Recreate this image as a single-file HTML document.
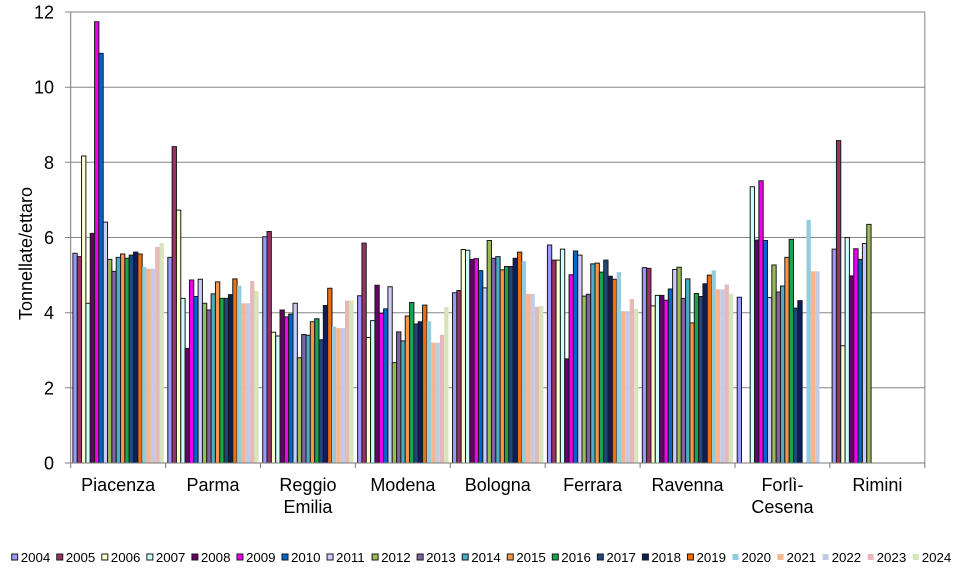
<!DOCTYPE html>
<html><head><meta charset="utf-8">
<style>
html,body{margin:0;padding:0;background:#fff;}
svg{display:block;}
text{font-family:"Liberation Sans",Arial,sans-serif;fill:#000;}
.b rect{vector-effect:non-scaling-stroke;stroke-width:1;}
.s0{fill:#9999FF;stroke:#1a1a1a}.s1{fill:#993366;stroke:#1a1a1a}.s2{fill:#FFFFCC;stroke:#1a1a1a}.s3{fill:#CCFFFF;stroke:#1a1a1a}
.s4{fill:#660066;stroke:#1a1a1a}.s5{fill:#EE00EE;stroke:#1a1a1a}.s6{fill:#0066CC;stroke:#1a1a1a}.s7{fill:#CCCCFF;stroke:#1a1a1a}
.s8{fill:#9BBB59;stroke:#1a1a1a}.s9{fill:#8064A2;stroke:#1a1a1a}.s10{fill:#4BACC6;stroke:#1a1a1a}.s11{fill:#F79646;stroke:#1a1a1a}
.s12{fill:#17A550;stroke:#1a1a1a}.s13{fill:#1F497D;stroke:#1a1a1a}.s14{fill:#0A1F5C;stroke:#1a1a1a}.s15{fill:#EC6E0E;stroke:#1a1a1a}
.s16{fill:#93CDDD;stroke:none}.s17{fill:#F8B48A;stroke:none}.s18{fill:#C2CBE6;stroke:none}.s19{fill:#E6B9B8;stroke:none}.s20{fill:#D7E4BD;stroke:none}
</style></head>
<body>
<svg width="966" height="588" viewBox="0 0 966 588" xmlns="http://www.w3.org/2000/svg">
<rect width="966" height="588" fill="#fff"/>
<!-- grid -->
<g stroke="#868686" stroke-width="1">
<line x1="65" y1="12" x2="924.8" y2="12"/>
<line x1="65" y1="87.2" x2="924.8" y2="87.2"/>
<line x1="65" y1="162.3" x2="924.8" y2="162.3"/>
<line x1="65" y1="237.5" x2="924.8" y2="237.5"/>
<line x1="65" y1="312.7" x2="924.8" y2="312.7"/>
<line x1="65" y1="387.8" x2="924.8" y2="387.8"/>
<line x1="924.8" y1="12" x2="924.8" y2="463"/>
</g>
<!-- bars -->
<g class="b" transform="translate(72.9,463) scale(1,-37.58)">
<rect class="s0" x="0" y="0" width="4.33" height="5.58"/><rect class="s1" x="4.33" y="0" width="4.33" height="5.49"/><rect class="s2" x="8.66" y="0" width="4.33" height="8.17"/><rect class="s3" x="12.99" y="0" width="4.33" height="4.25"/><rect class="s4" x="17.32" y="0" width="4.33" height="6.11"/><rect class="s5" x="21.65" y="0" width="4.33" height="11.74"/><rect class="s6" x="25.98" y="0" width="4.33" height="10.9"/><rect class="s7" x="30.31" y="0" width="4.33" height="6.41"/><rect class="s8" x="34.64" y="0" width="4.33" height="5.42"/><rect class="s9" x="38.97" y="0" width="4.33" height="5.1"/><rect class="s10" x="43.3" y="0" width="4.33" height="5.47"/><rect class="s11" x="47.63" y="0" width="4.33" height="5.56"/><rect class="s12" x="51.96" y="0" width="4.33" height="5.45"/><rect class="s13" x="56.29" y="0" width="4.33" height="5.53"/><rect class="s14" x="60.62" y="0" width="4.33" height="5.61"/><rect class="s15" x="64.95" y="0" width="4.33" height="5.56"/><rect class="s16" x="69.28" y="0" width="4.33" height="5.22"/><rect class="s17" x="73.61" y="0" width="4.33" height="5.17"/><rect class="s18" x="77.94" y="0" width="4.33" height="5.17"/><rect class="s19" x="82.27" y="0" width="4.33" height="5.75"/><rect class="s20" x="86.6" y="0" width="4.33" height="5.85"/>
</g>
<g class="b" transform="translate(167.8,463) scale(1,-37.58)">
<rect class="s0" x="0" y="0" width="4.33" height="5.47"/><rect class="s1" x="4.33" y="0" width="4.33" height="8.42"/><rect class="s2" x="8.66" y="0" width="4.33" height="6.73"/><rect class="s3" x="12.99" y="0" width="4.33" height="4.38"/><rect class="s4" x="17.32" y="0" width="4.33" height="3.05"/><rect class="s5" x="21.65" y="0" width="4.33" height="4.87"/><rect class="s6" x="25.98" y="0" width="4.33" height="4.43"/><rect class="s7" x="30.31" y="0" width="4.33" height="4.89"/><rect class="s8" x="34.64" y="0" width="4.33" height="4.25"/><rect class="s9" x="38.97" y="0" width="4.33" height="4.07"/><rect class="s10" x="43.3" y="0" width="4.33" height="4.5"/><rect class="s11" x="47.63" y="0" width="4.33" height="4.82"/><rect class="s12" x="51.96" y="0" width="4.33" height="4.38"/><rect class="s13" x="56.29" y="0" width="4.33" height="4.38"/><rect class="s14" x="60.62" y="0" width="4.33" height="4.48"/><rect class="s15" x="64.95" y="0" width="4.33" height="4.9"/><rect class="s16" x="69.28" y="0" width="4.33" height="4.72"/><rect class="s17" x="73.61" y="0" width="4.33" height="4.25"/><rect class="s18" x="77.94" y="0" width="4.33" height="4.25"/><rect class="s19" x="82.27" y="0" width="4.33" height="4.84"/><rect class="s20" x="86.6" y="0" width="4.33" height="4.58"/>
</g>
<g class="b" transform="translate(262.7,463) scale(1,-37.58)">
<rect class="s0" x="0" y="0" width="4.33" height="6.02"/><rect class="s1" x="4.33" y="0" width="4.33" height="6.16"/><rect class="s2" x="8.66" y="0" width="4.33" height="3.48"/><rect class="s3" x="12.99" y="0" width="4.33" height="3.38"/><rect class="s4" x="17.32" y="0" width="4.33" height="4.07"/><rect class="s5" x="21.65" y="0" width="4.33" height="3.89"/><rect class="s6" x="25.98" y="0" width="4.33" height="3.96"/><rect class="s7" x="30.31" y="0" width="4.33" height="4.25"/><rect class="s8" x="34.64" y="0" width="4.33" height="2.8"/><rect class="s9" x="38.97" y="0" width="4.33" height="3.42"/><rect class="s10" x="43.3" y="0" width="4.33" height="3.4"/><rect class="s11" x="47.63" y="0" width="4.33" height="3.76"/><rect class="s12" x="51.96" y="0" width="4.33" height="3.84"/><rect class="s13" x="56.29" y="0" width="4.33" height="3.28"/><rect class="s14" x="60.62" y="0" width="4.33" height="4.19"/><rect class="s15" x="64.95" y="0" width="4.33" height="4.65"/><rect class="s16" x="69.28" y="0" width="4.33" height="3.63"/><rect class="s17" x="73.61" y="0" width="4.33" height="3.59"/><rect class="s18" x="77.94" y="0" width="4.33" height="3.59"/><rect class="s19" x="82.27" y="0" width="4.33" height="4.32"/><rect class="s20" x="86.6" y="0" width="4.33" height="4.33"/>
</g>
<g class="b" transform="translate(357.6,463) scale(1,-37.58)">
<rect class="s0" x="0" y="0" width="4.33" height="4.45"/><rect class="s1" x="4.33" y="0" width="4.33" height="5.85"/><rect class="s2" x="8.66" y="0" width="4.33" height="3.34"/><rect class="s3" x="12.99" y="0" width="4.33" height="3.79"/><rect class="s4" x="17.32" y="0" width="4.33" height="4.73"/><rect class="s5" x="21.65" y="0" width="4.33" height="3.98"/><rect class="s6" x="25.98" y="0" width="4.33" height="4.1"/><rect class="s7" x="30.31" y="0" width="4.33" height="4.69"/><rect class="s8" x="34.64" y="0" width="4.33" height="2.67"/><rect class="s9" x="38.97" y="0" width="4.33" height="3.49"/><rect class="s10" x="43.3" y="0" width="4.33" height="3.25"/><rect class="s11" x="47.63" y="0" width="4.33" height="3.91"/><rect class="s12" x="51.96" y="0" width="4.33" height="4.27"/><rect class="s13" x="56.29" y="0" width="4.33" height="3.7"/><rect class="s14" x="60.62" y="0" width="4.33" height="3.76"/><rect class="s15" x="64.95" y="0" width="4.33" height="4.2"/><rect class="s16" x="69.28" y="0" width="4.33" height="3.77"/><rect class="s17" x="73.61" y="0" width="4.33" height="3.2"/><rect class="s18" x="77.94" y="0" width="4.33" height="3.2"/><rect class="s19" x="82.27" y="0" width="4.33" height="3.41"/><rect class="s20" x="86.6" y="0" width="4.33" height="4.15"/>
</g>
<g class="b" transform="translate(452.5,463) scale(1,-37.58)">
<rect class="s0" x="0" y="0" width="4.33" height="4.53"/><rect class="s1" x="4.33" y="0" width="4.33" height="4.59"/><rect class="s2" x="8.66" y="0" width="4.33" height="5.68"/><rect class="s3" x="12.99" y="0" width="4.33" height="5.66"/><rect class="s4" x="17.32" y="0" width="4.33" height="5.42"/><rect class="s5" x="21.65" y="0" width="4.33" height="5.44"/><rect class="s6" x="25.98" y="0" width="4.33" height="5.12"/><rect class="s7" x="30.31" y="0" width="4.33" height="4.66"/><rect class="s8" x="34.64" y="0" width="4.33" height="5.92"/><rect class="s9" x="38.97" y="0" width="4.33" height="5.45"/><rect class="s10" x="43.3" y="0" width="4.33" height="5.49"/><rect class="s11" x="47.63" y="0" width="4.33" height="5.14"/><rect class="s12" x="51.96" y="0" width="4.33" height="5.23"/><rect class="s13" x="56.29" y="0" width="4.33" height="5.23"/><rect class="s14" x="60.62" y="0" width="4.33" height="5.45"/><rect class="s15" x="64.95" y="0" width="4.33" height="5.61"/><rect class="s16" x="69.28" y="0" width="4.33" height="5.37"/><rect class="s17" x="73.61" y="0" width="4.33" height="4.5"/><rect class="s18" x="77.94" y="0" width="4.33" height="4.5"/><rect class="s19" x="82.27" y="0" width="4.33" height="4.16"/><rect class="s20" x="86.6" y="0" width="4.33" height="4.18"/>
</g>
<g class="b" transform="translate(547.4,463) scale(1,-37.58)">
<rect class="s0" x="0" y="0" width="4.33" height="5.8"/><rect class="s1" x="4.33" y="0" width="4.33" height="5.4"/><rect class="s2" x="8.66" y="0" width="4.33" height="5.4"/><rect class="s3" x="12.99" y="0" width="4.33" height="5.69"/><rect class="s4" x="17.32" y="0" width="4.33" height="2.77"/><rect class="s5" x="21.65" y="0" width="4.33" height="5.01"/><rect class="s6" x="25.98" y="0" width="4.33" height="5.64"/><rect class="s7" x="30.31" y="0" width="4.33" height="5.53"/><rect class="s8" x="34.64" y="0" width="4.33" height="4.44"/><rect class="s9" x="38.97" y="0" width="4.33" height="4.49"/><rect class="s10" x="43.3" y="0" width="4.33" height="5.3"/><rect class="s11" x="47.63" y="0" width="4.33" height="5.32"/><rect class="s12" x="51.96" y="0" width="4.33" height="5.08"/><rect class="s13" x="56.29" y="0" width="4.33" height="5.4"/><rect class="s14" x="60.62" y="0" width="4.33" height="4.97"/><rect class="s15" x="64.95" y="0" width="4.33" height="4.89"/><rect class="s16" x="69.28" y="0" width="4.33" height="5.08"/><rect class="s17" x="73.61" y="0" width="4.33" height="4.04"/><rect class="s18" x="77.94" y="0" width="4.33" height="4.04"/><rect class="s19" x="82.27" y="0" width="4.33" height="4.36"/><rect class="s20" x="86.6" y="0" width="4.33" height="4.1"/>
</g>
<g class="b" transform="translate(642.3,463) scale(1,-37.58)">
<rect class="s0" x="0" y="0" width="4.33" height="5.2"/><rect class="s1" x="4.33" y="0" width="4.33" height="5.18"/><rect class="s2" x="8.66" y="0" width="4.33" height="4.18"/><rect class="s3" x="12.99" y="0" width="4.33" height="4.46"/><rect class="s4" x="17.32" y="0" width="4.33" height="4.46"/><rect class="s5" x="21.65" y="0" width="4.33" height="4.33"/><rect class="s6" x="25.98" y="0" width="4.33" height="4.63"/><rect class="s7" x="30.31" y="0" width="4.33" height="5.15"/><rect class="s8" x="34.64" y="0" width="4.33" height="5.21"/><rect class="s9" x="38.97" y="0" width="4.33" height="4.38"/><rect class="s10" x="43.3" y="0" width="4.33" height="4.9"/><rect class="s11" x="47.63" y="0" width="4.33" height="3.73"/><rect class="s12" x="51.96" y="0" width="4.33" height="4.51"/><rect class="s13" x="56.29" y="0" width="4.33" height="4.43"/><rect class="s14" x="60.62" y="0" width="4.33" height="4.77"/><rect class="s15" x="64.95" y="0" width="4.33" height="5.0"/><rect class="s16" x="69.28" y="0" width="4.33" height="5.13"/><rect class="s17" x="73.61" y="0" width="4.33" height="4.62"/><rect class="s18" x="77.94" y="0" width="4.33" height="4.62"/><rect class="s19" x="82.27" y="0" width="4.33" height="4.75"/><rect class="s20" x="86.6" y="0" width="4.33" height="4.51"/>
</g>
<g class="b" transform="translate(737.2,463) scale(1,-37.58)">
<rect class="s0" x="0" y="0" width="4.33" height="4.41"/><rect class="s3" x="12.99" y="0" width="4.33" height="7.35"/><rect class="s4" x="17.32" y="0" width="4.33" height="5.93"/><rect class="s5" x="21.65" y="0" width="4.33" height="7.51"/><rect class="s6" x="25.98" y="0" width="4.33" height="5.92"/><rect class="s7" x="30.31" y="0" width="4.33" height="4.4"/><rect class="s8" x="34.64" y="0" width="4.33" height="5.27"/><rect class="s9" x="38.97" y="0" width="4.33" height="4.55"/><rect class="s10" x="43.3" y="0" width="4.33" height="4.71"/><rect class="s11" x="47.63" y="0" width="4.33" height="5.47"/><rect class="s12" x="51.96" y="0" width="4.33" height="5.95"/><rect class="s13" x="56.29" y="0" width="4.33" height="4.12"/><rect class="s14" x="60.62" y="0" width="4.33" height="4.32"/><rect class="s16" x="69.28" y="0" width="4.33" height="6.47"/><rect class="s17" x="73.61" y="0" width="4.33" height="5.1"/><rect class="s18" x="77.94" y="0" width="4.33" height="5.1"/>
</g>
<g class="b" transform="translate(832.1,463) scale(1,-37.58)">
<rect class="s0" x="0" y="0" width="4.33" height="5.69"/><rect class="s1" x="4.33" y="0" width="4.33" height="8.58"/><rect class="s2" x="8.66" y="0" width="4.33" height="3.12"/><rect class="s3" x="12.99" y="0" width="4.33" height="6.0"/><rect class="s4" x="17.32" y="0" width="4.33" height="4.98"/><rect class="s5" x="21.65" y="0" width="4.33" height="5.7"/><rect class="s6" x="25.98" y="0" width="4.33" height="5.42"/><rect class="s7" x="30.31" y="0" width="4.33" height="5.84"/><rect class="s8" x="34.64" y="0" width="4.33" height="6.35"/>
</g>
<!-- axes -->
<g stroke="#7a7a7a" stroke-width="1">
<line x1="70.7" y1="12" x2="70.7" y2="463"/>
<line x1="65" y1="463" x2="924.8" y2="463"/>
<line x1="70.7" y1="463" x2="70.7" y2="468"/>
<line x1="165.6" y1="463" x2="165.6" y2="468"/>
<line x1="260.5" y1="463" x2="260.5" y2="468"/>
<line x1="355.4" y1="463" x2="355.4" y2="468"/>
<line x1="450.3" y1="463" x2="450.3" y2="468"/>
<line x1="545.2" y1="463" x2="545.2" y2="468"/>
<line x1="640.1" y1="463" x2="640.1" y2="468"/>
<line x1="735" y1="463" x2="735" y2="468"/>
<line x1="829.9" y1="463" x2="829.9" y2="468"/>
<line x1="924.8" y1="463" x2="924.8" y2="468"/>
</g>
<!-- y tick labels -->
<g font-size="18" text-anchor="end">
<text x="54" y="18.5">12</text>
<text x="54" y="93.7">10</text>
<text x="54" y="168.8">8</text>
<text x="54" y="244">6</text>
<text x="54" y="319.2">4</text>
<text x="54" y="394.3">2</text>
<text x="54" y="469.5">0</text>
</g>
<text transform="translate(32,253.5) rotate(-90)" font-size="18" text-anchor="middle">Tonnellate/ettaro</text>
<!-- category labels -->
<g font-size="18" text-anchor="middle">
<text x="118.15" y="491">Piacenza</text>
<text x="213.05" y="491">Parma</text>
<text x="307.95" y="491">Reggio</text>
<text x="307.95" y="513">Emilia</text>
<text x="402.85" y="491">Modena</text>
<text x="497.75" y="491">Bologna</text>
<text x="592.65" y="491">Ferrara</text>
<text x="687.55" y="491">Ravenna</text>
<text x="782.45" y="491">Forlì-</text>
<text x="782.45" y="513">Cesena</text>
<text x="877.35" y="491">Rimini</text>
</g>
<!-- legend -->
<g stroke-width="1">
<rect class="s0" x="11.7" y="554" width="6" height="6"/>
<rect class="s1" x="56.75" y="554" width="6" height="6"/>
<rect class="s2" x="101.8" y="554" width="6" height="6"/>
<rect class="s3" x="146.85" y="554" width="6" height="6"/>
<rect class="s4" x="191.9" y="554" width="6" height="6"/>
<rect class="s5" x="236.95" y="554" width="6" height="6"/>
<rect class="s6" x="282" y="554" width="6" height="6"/>
<rect class="s7" x="327.05" y="554" width="6" height="6"/>
<rect class="s8" x="372.1" y="554" width="6" height="6"/>
<rect class="s9" x="417.15" y="554" width="6" height="6"/>
<rect class="s10" x="462.2" y="554" width="6" height="6"/>
<rect class="s11" x="507.25" y="554" width="6" height="6"/>
<rect class="s12" x="552.3" y="554" width="6" height="6"/>
<rect class="s13" x="597.35" y="554" width="6" height="6"/>
<rect class="s14" x="642.4" y="554" width="6" height="6"/>
<rect class="s15" x="687.45" y="554" width="6" height="6"/>
<rect class="s16" x="732.5" y="554" width="6" height="6"/>
<rect class="s17" x="777.55" y="554" width="6" height="6"/>
<rect class="s18" x="822.6" y="554" width="6" height="6"/>
<rect class="s19" x="867.65" y="554" width="6" height="6"/>
<rect class="s20" x="912.7" y="554" width="6" height="6"/>
</g>
<g font-size="13.3">
<text x="20.7" y="562">2004</text>
<text x="65.75" y="562">2005</text>
<text x="110.8" y="562">2006</text>
<text x="155.85" y="562">2007</text>
<text x="200.9" y="562">2008</text>
<text x="245.95" y="562">2009</text>
<text x="291" y="562">2010</text>
<text x="336.05" y="562">2011</text>
<text x="381.1" y="562">2012</text>
<text x="426.15" y="562">2013</text>
<text x="471.2" y="562">2014</text>
<text x="516.25" y="562">2015</text>
<text x="561.3" y="562">2016</text>
<text x="606.35" y="562">2017</text>
<text x="651.4" y="562">2018</text>
<text x="696.45" y="562">2019</text>
<text x="741.5" y="562">2020</text>
<text x="786.55" y="562">2021</text>
<text x="831.6" y="562">2022</text>
<text x="876.65" y="562">2023</text>
<text x="921.7" y="562">2024</text>
</g>
</svg>
</body></html>
